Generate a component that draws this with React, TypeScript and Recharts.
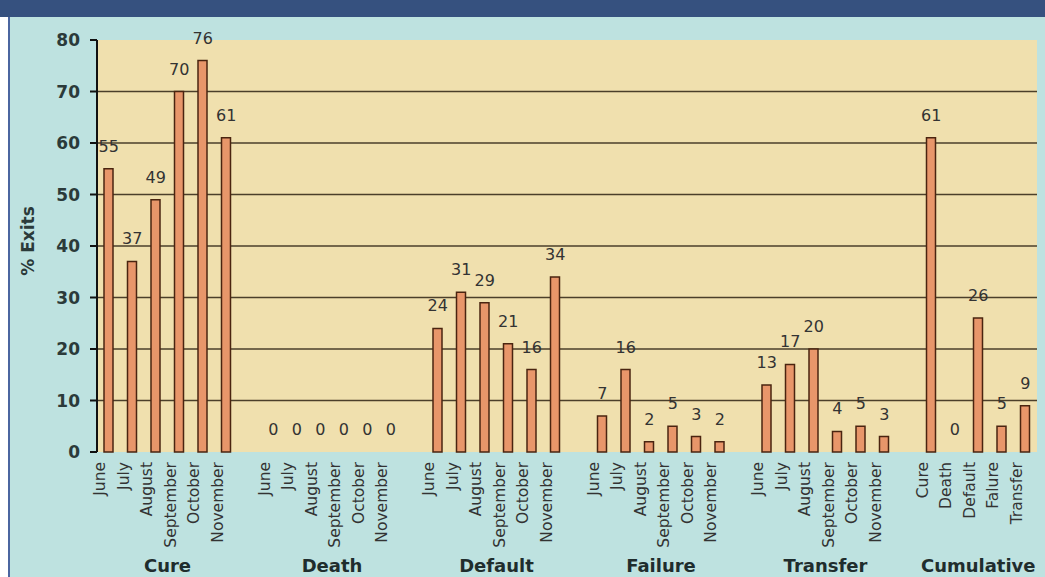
import React from "react";
import {
  ComposedChart,
  Bar,
  Line,
  XAxis,
  YAxis,
  CartesianGrid,
  LabelList,
} from "recharts";

const MONTHS = ["June", "July", "August", "September", "October", "November"];
const GROUPS = ["Cure", "Death", "Default", "Failure", "Transfer"];

const CURE = [55, 37, 49, 70, 76, 61];
const DEATH = [0, 0, 0, 0, 0, 0];
const DEFAULT = [24, 31, 29, 21, 16, 34];
const FAILURE = [7, 16, 2, 5, 3, 2];
const TRANSFER = [13, 17, 20, 4, 5, 3];

const CUMULATIVE_TITLE = "Cumulative";
const CUMULATIVE_LABELS = ["Cure", "Death", "Default", "Falure", "Transfer"];
const CUMULATIVE = [61, 0, 26, 5, 9];

const Y_TICKS = [0, 10, 20, 30, 40, 50, 60, 70, 80];
const GRID_VALUES = [10, 20, 30, 40, 50, 60, 70];

const SERIES = [CURE, DEATH, DEFAULT, FAILURE, TRANSFER];

type Row = { key: string; label: string; value: number | null };

// one row per bar, with an empty slot between the groups
const rows: Row[] = [];
// group title drawn under the middle of each group: index of middle row, and
// whether the middle falls between two rows
const groupMid = new Map<number, { title: string; between: boolean }>();

GROUPS.forEach((g, gi) => {
  groupMid.set(rows.length + Math.floor((MONTHS.length - 1) / 2), {
    title: g,
    between: MONTHS.length % 2 === 0,
  });
  MONTHS.forEach((m, mi) => {
    rows.push({ key: `${g}|${m}`, label: m, value: SERIES[gi][mi] });
  });
  rows.push({ key: `gap|${gi}`, label: "", value: null });
});
groupMid.set(rows.length + Math.floor((CUMULATIVE_LABELS.length - 1) / 2), {
  title: CUMULATIVE_TITLE,
  between: CUMULATIVE_LABELS.length % 2 === 0,
});
CUMULATIVE_LABELS.forEach((c, i) => {
  rows.push({ key: `cum|${c}`, label: c, value: CUMULATIVE[i] });
});

const FONT = "'DejaVu Sans', Verdana, sans-serif";
const TEXT = "#333333";

// eslint-disable-next-line @typescript-eslint/no-explicit-any
const MonthTick = ({ x, y, payload }: any) => {
  const key = String(payload.value);
  if (key.startsWith("gap")) return null;
  return (
    <g transform={`translate(${x},${y}) rotate(-90)`}>
      <text x={0} y={-3.5} textAnchor="end" fontSize={15.5} fontFamily={FONT} fill={TEXT}>
        {key.split("|")[1]}
      </text>
    </g>
  );
};

// eslint-disable-next-line @typescript-eslint/no-explicit-any
const GroupTick = ({ x, y, index, payload, width }: any) => {
  const g = groupMid.get(index);
  if (!g) return null;
  const half = payload.offset ?? width / rows.length / 2;
  return (
    <text
      x={g.between ? x + half : x}
      y={y}
      dy={45}
      textAnchor="middle"
      fontSize={18}
      fontWeight="bold"
      fontFamily={FONT}
      fill="#1f2d2d"
    >
      {g.title}
    </text>
  );
};

export default function App() {
  return (
    <div style={{ position: "absolute", left: 0, top: 0, width: 1045, height: 577, background: "#ffffff", overflow: "hidden" }}>
      <div style={{ position: "absolute", left: 0, top: 0, width: 1045, height: 17, background: "#36517f" }} />
      <div style={{ position: "absolute", left: 8, top: 17, width: 2, height: 560, background: "#4b66a0" }} />
      <div style={{ position: "absolute", left: 10, top: 17, width: 1035, height: 560, background: "#bee2e0" }} />
      <div style={{ position: "absolute", left: 0, top: 0 }}>
        <ComposedChart
          width={1045}
          height={577}
          data={rows}
          margin={{ top: 40, right: 8, left: 10, bottom: 10 }}
        >
          <CartesianGrid
            vertical={false}
            horizontalValues={GRID_VALUES}
            stroke="#4b3f2a"
            strokeWidth={1.5}
            fill="#f0e0ae"
            fillOpacity={1}
          />
          <XAxis
            xAxisId="cat"
            dataKey="key"
            interval={0}
            height={75}
            tickSize={0}
            tickMargin={10}
            axisLine={false}
            tick={<MonthTick />}
          />
          <XAxis
            xAxisId="group"
            dataKey="key"
            interval={0}
            height={40}
            tickSize={0}
            tickMargin={0}
            axisLine={false}
            tick={<GroupTick />}
          />
          <YAxis
            width={87}
            domain={[0, 80]}
            ticks={Y_TICKS}
            interval={0}
            tickSize={7}
            tickMargin={10}
            axisLine={{ stroke: "#111111", strokeWidth: 2 }}
            tickLine={{ stroke: "#111111", strokeWidth: 2 }}
            tick={{ fontSize: 17, fontWeight: "bold", fontFamily: FONT, fill: "#2b3a3a" }}
            label={{
              value: "% Exits",
              angle: -90,
              position: "center",
              dx: -26,
              dy: -5,
              fontSize: 17,
              fontWeight: "bold",
              fontFamily: FONT,
              fill: "#2b3a3a",
            }}
          />
          <Bar
            xAxisId="cat"
            dataKey="value"
            barSize={9}
            fill="#e8966a"
            stroke="#4a2410"
            strokeWidth={1.5}
            isAnimationActive={false}
          />
          {/* invisible series that carries the value labels, so zeros get one too */}
          <Line
            xAxisId="cat"
            dataKey="value"
            stroke="none"
            dot={false}
            activeDot={false}
            legendType="none"
            isAnimationActive={false}
          >
            <LabelList
              dataKey="value"
              position="top"
              offset={17}
              fontSize={16}
              fontFamily={FONT}
              fill={TEXT}
            />
          </Line>
        </ComposedChart>
      </div>
    </div>
  );
}
